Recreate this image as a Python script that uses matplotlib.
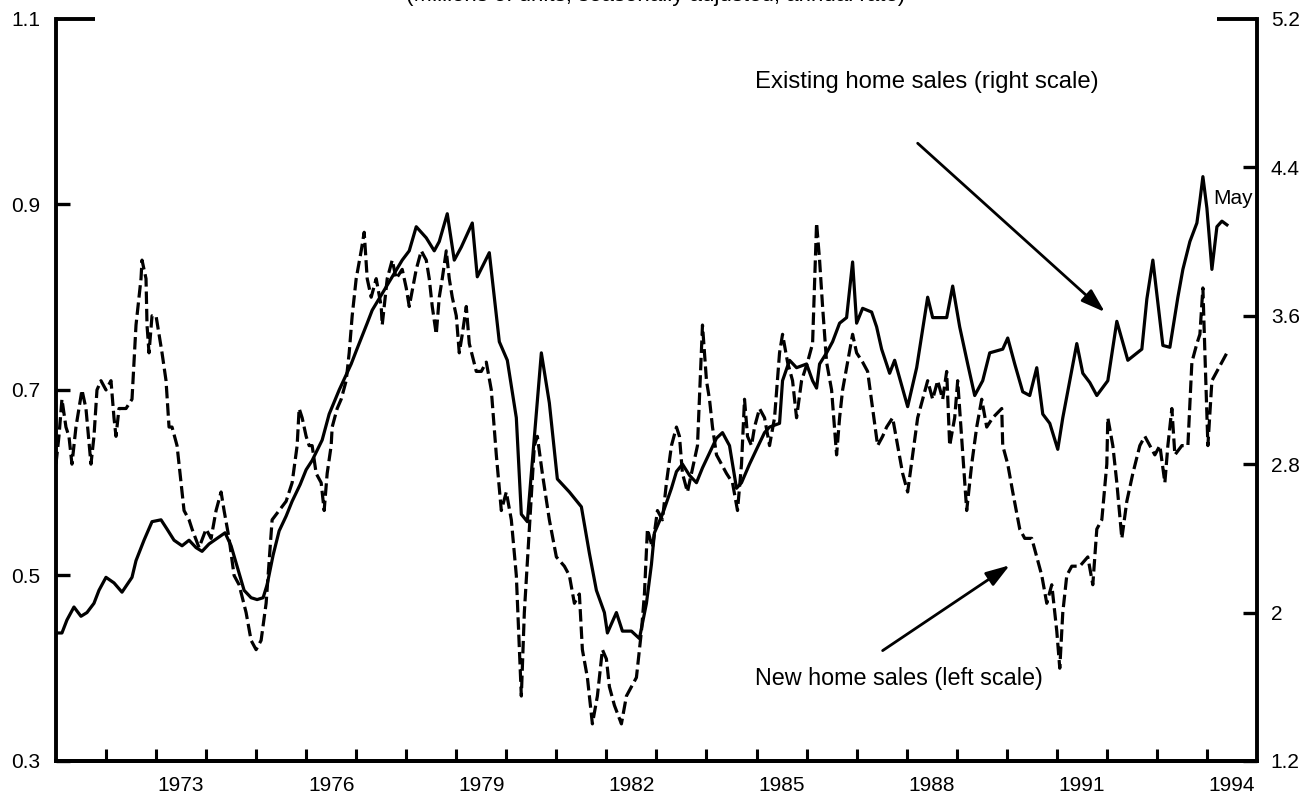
import matplotlib.pyplot as plt

plt.rcParams['font.family'] = ['Liberation Sans', 'DejaVu Sans']
plt.rcParams['lines.scale_dashes'] = False

# existing home sales, millions (right scale)
existing_years = [
    1971.00, 1971.12, 1971.22, 1971.36, 1971.50, 1971.62, 1971.76, 1971.86, 1972.00, 1972.16,
    1972.32, 1972.52, 1972.60, 1972.76, 1972.92, 1973.10, 1973.22, 1973.36, 1973.52, 1973.66,
    1973.80, 1973.92, 1974.06, 1974.22, 1974.38, 1974.50, 1974.62, 1974.76, 1974.90, 1975.02,
    1975.14, 1975.22, 1975.34, 1975.46, 1975.60, 1975.72, 1975.88, 1976.00, 1976.12, 1976.32,
    1976.46, 1976.66, 1976.90, 1977.00, 1977.22, 1977.32, 1977.52, 1977.72, 1977.92, 1978.06,
    1978.20, 1978.40, 1978.56, 1978.66, 1978.82, 1978.96, 1979.10, 1979.32, 1979.42, 1979.66,
    1979.86, 1980.02, 1980.20, 1980.30, 1980.42, 1980.70, 1980.86, 1981.02, 1981.26, 1981.50,
    1981.66, 1981.80, 1981.96, 1982.02, 1982.20, 1982.32, 1982.50, 1982.66, 1982.80, 1982.90,
    1982.96, 1983.12, 1983.30, 1983.40, 1983.52, 1983.66, 1983.80, 1983.92, 1984.06, 1984.20,
    1984.32, 1984.46, 1984.60, 1984.70, 1984.86, 1985.00, 1985.16, 1985.26, 1985.46, 1985.52,
    1985.66, 1985.80, 1986.00, 1986.12, 1986.20, 1986.26, 1986.40, 1986.52, 1986.66, 1986.80,
    1986.92, 1987.00, 1987.12, 1987.30, 1987.40, 1987.50, 1987.66, 1987.76, 1988.02, 1988.20,
    1988.42, 1988.52, 1988.80, 1988.92, 1989.06, 1989.22, 1989.36, 1989.52, 1989.66, 1989.92,
    1990.02, 1990.16, 1990.32, 1990.46, 1990.60, 1990.72, 1990.86, 1991.02, 1991.12, 1991.40,
    1991.52, 1991.66, 1991.80, 1992.02, 1992.20, 1992.42, 1992.70, 1992.80, 1992.92, 1993.12,
    1993.26, 1993.42, 1993.52, 1993.66, 1993.80, 1993.86, 1993.92, 1994.00, 1994.10, 1994.20,
    1994.30, 1994.40,
]
existing_sales = [
    1.89, 1.89, 1.96, 2.03, 1.98, 2.00, 2.05, 2.12, 2.19, 2.16,
    2.11, 2.19, 2.28, 2.39, 2.49, 2.50, 2.45, 2.39, 2.36, 2.39,
    2.35, 2.33, 2.37, 2.40, 2.43, 2.36, 2.25, 2.12, 2.08, 2.07,
    2.08, 2.15, 2.31, 2.44, 2.52, 2.60, 2.69, 2.77, 2.82, 2.93,
    3.07, 3.20, 3.34, 3.41, 3.56, 3.63, 3.72, 3.81, 3.90, 3.95,
    4.08, 4.02, 3.95, 4.00, 4.15, 3.90, 3.97, 4.10, 3.81, 3.94,
    3.46, 3.36, 3.05, 2.53, 2.49, 3.40, 3.13, 2.72, 2.65, 2.57,
    2.32, 2.12, 2.00, 1.89, 2.00, 1.90, 1.90, 1.86, 2.05, 2.26,
    2.43, 2.53, 2.67, 2.76, 2.80, 2.74, 2.70, 2.78, 2.86, 2.94,
    2.97, 2.90, 2.67, 2.70, 2.80, 2.88, 2.97, 3.00, 3.02, 3.25,
    3.36, 3.32, 3.34, 3.25, 3.21, 3.34, 3.40, 3.46, 3.56, 3.59,
    3.89, 3.56, 3.64, 3.62, 3.54, 3.42, 3.29, 3.36, 3.11, 3.32,
    3.70, 3.59, 3.59, 3.76, 3.54, 3.34, 3.17, 3.25, 3.40, 3.42,
    3.48, 3.34, 3.19, 3.17, 3.32, 3.07, 3.02, 2.88, 3.05, 3.45,
    3.29, 3.24, 3.17, 3.25, 3.57, 3.36, 3.42, 3.69, 3.90, 3.44,
    3.43, 3.70, 3.85, 4.00, 4.10, 4.22, 4.35, 4.18, 3.85, 4.08,
    4.11, 4.09,
]

# new home sales, millions (left scale)
new_years = [
    1971.00, 1971.06, 1971.12, 1971.20, 1971.26, 1971.32, 1971.40, 1971.46, 1971.52, 1971.60,
    1971.70, 1971.76, 1971.82, 1971.90, 1972.00, 1972.10, 1972.16, 1972.20, 1972.26, 1972.40,
    1972.52, 1972.60, 1972.70, 1972.72, 1972.80, 1972.82, 1972.86, 1972.92, 1973.00, 1973.06,
    1973.12, 1973.20, 1973.26, 1973.32, 1973.42, 1973.50, 1973.56, 1973.66, 1973.72, 1973.86,
    1974.00, 1974.10, 1974.20, 1974.30, 1974.36, 1974.46, 1974.56, 1974.66, 1974.80, 1974.90,
    1975.00, 1975.10, 1975.20, 1975.28, 1975.32, 1975.46, 1975.60, 1975.72, 1975.82, 1975.86,
    1975.92, 1976.00, 1976.06, 1976.12, 1976.20, 1976.30, 1976.36, 1976.42, 1976.50, 1976.52,
    1976.62, 1976.70, 1976.80, 1976.86, 1976.92, 1977.00, 1977.10, 1977.16, 1977.22, 1977.30,
    1977.40, 1977.50, 1977.52, 1977.62, 1977.72, 1977.80, 1977.92, 1978.00, 1978.06, 1978.20,
    1978.30, 1978.40, 1978.46, 1978.52, 1978.60, 1978.66, 1978.72, 1978.80, 1978.86, 1978.92,
    1979.00, 1979.06, 1979.12, 1979.20, 1979.26, 1979.40, 1979.50, 1979.60, 1979.70, 1979.80,
    1979.90, 1980.00, 1980.10, 1980.20, 1980.30, 1980.36, 1980.46, 1980.56, 1980.62, 1980.72,
    1980.86, 1981.00, 1981.16, 1981.26, 1981.36, 1981.46, 1981.52, 1981.62, 1981.72, 1981.82,
    1981.92, 1982.00, 1982.06, 1982.16, 1982.30, 1982.40, 1982.50, 1982.60, 1982.70, 1982.76,
    1982.82, 1982.92, 1983.02, 1983.12, 1983.20, 1983.30, 1983.40, 1983.46, 1983.52, 1983.62,
    1983.70, 1983.82, 1983.92, 1984.00, 1984.06, 1984.12, 1984.20, 1984.30, 1984.40, 1984.52,
    1984.62, 1984.70, 1984.76, 1984.82, 1984.90, 1984.96, 1985.06, 1985.16, 1985.26, 1985.36,
    1985.46, 1985.52, 1985.62, 1985.72, 1985.80, 1985.90, 1986.02, 1986.12, 1986.20, 1986.26,
    1986.32, 1986.40, 1986.50, 1986.60, 1986.66, 1986.72, 1986.82, 1986.92, 1987.00, 1987.12,
    1987.22, 1987.32, 1987.42, 1987.52, 1987.60, 1987.72, 1987.82, 1987.92, 1988.02, 1988.12,
    1988.22, 1988.32, 1988.42, 1988.52, 1988.62, 1988.72, 1988.80, 1988.86, 1988.96, 1989.02,
    1989.20, 1989.30, 1989.40, 1989.50, 1989.60, 1989.72, 1989.90, 1989.92, 1990.02, 1990.12,
    1990.26, 1990.36, 1990.50, 1990.60, 1990.70, 1990.80, 1990.90, 1991.00, 1991.06, 1991.12,
    1991.20, 1991.30, 1991.46, 1991.62, 1991.72, 1991.80, 1991.90, 1992.00, 1992.02, 1992.12,
    1992.20, 1992.30, 1992.40, 1992.52, 1992.66, 1992.76, 1992.86, 1992.96, 1993.06, 1993.16,
    1993.22, 1993.30, 1993.36, 1993.50, 1993.62, 1993.70, 1993.80, 1993.86, 1993.92, 1993.96,
    1994.02, 1994.10, 1994.20, 1994.30, 1994.40,
]
new_sales = [
    0.62, 0.65, 0.69, 0.66, 0.65, 0.62, 0.66, 0.68, 0.70, 0.68,
    0.62, 0.65, 0.70, 0.71, 0.70, 0.71, 0.67, 0.65, 0.68, 0.68,
    0.69, 0.77, 0.82, 0.84, 0.82, 0.77, 0.74, 0.78, 0.78, 0.76,
    0.74, 0.71, 0.66, 0.66, 0.64, 0.60, 0.57, 0.56, 0.55, 0.53,
    0.55, 0.54, 0.57, 0.59, 0.57, 0.54, 0.50, 0.49, 0.46, 0.43,
    0.42, 0.43, 0.47, 0.53, 0.56, 0.57, 0.58, 0.60, 0.64, 0.68,
    0.67, 0.65, 0.64, 0.64, 0.61, 0.60, 0.57, 0.61, 0.64, 0.66,
    0.68, 0.69, 0.71, 0.74, 0.78, 0.82, 0.85, 0.87, 0.82, 0.80,
    0.82, 0.79, 0.77, 0.82, 0.84, 0.82, 0.83, 0.81, 0.79, 0.83,
    0.85, 0.84, 0.82, 0.79, 0.76, 0.80, 0.82, 0.85, 0.82, 0.80,
    0.78, 0.74, 0.76, 0.79, 0.75, 0.72, 0.72, 0.73, 0.70, 0.63,
    0.57, 0.59, 0.56, 0.50, 0.37, 0.46, 0.55, 0.64, 0.65, 0.61,
    0.56, 0.52, 0.51, 0.50, 0.47, 0.48, 0.42, 0.39, 0.34, 0.37,
    0.42, 0.41, 0.38, 0.36, 0.34, 0.37, 0.38, 0.39, 0.44, 0.48,
    0.55, 0.53, 0.57, 0.56, 0.60, 0.64, 0.66, 0.65, 0.61, 0.59,
    0.61, 0.64, 0.77, 0.71, 0.69, 0.66, 0.63, 0.62, 0.61, 0.60,
    0.57, 0.62, 0.69, 0.65, 0.64, 0.66, 0.68, 0.67, 0.64, 0.67,
    0.74, 0.76, 0.73, 0.71, 0.67, 0.71, 0.73, 0.75, 0.88, 0.84,
    0.79, 0.73, 0.70, 0.63, 0.67, 0.70, 0.73, 0.76, 0.74, 0.73,
    0.72, 0.68, 0.64, 0.65, 0.66, 0.67, 0.64, 0.61, 0.59, 0.63,
    0.67, 0.69, 0.71, 0.69, 0.71, 0.69, 0.72, 0.64, 0.67, 0.71,
    0.57, 0.62, 0.66, 0.69, 0.66, 0.67, 0.68, 0.64, 0.62, 0.59,
    0.55, 0.54, 0.54, 0.52, 0.50, 0.47, 0.49, 0.44, 0.40, 0.46,
    0.50, 0.51, 0.51, 0.52, 0.49, 0.55, 0.56, 0.62, 0.67, 0.64,
    0.60, 0.54, 0.58, 0.61, 0.64, 0.65, 0.64, 0.63, 0.64, 0.60,
    0.64, 0.68, 0.63, 0.64, 0.64, 0.73, 0.75, 0.76, 0.81, 0.74,
    0.64, 0.71, 0.72, 0.73, 0.74,
]

year_ticks = list(range(1972, 1995))
label_years = [1973, 1976, 1979, 1982, 1985, 1988, 1991, 1994]
left_ticks = [0.3, 0.5, 0.7, 0.9]
right_ticks = [1.2, 2.0, 2.8, 3.6, 4.4]

fig = plt.figure(figsize=(13.07, 7.96), dpi=100)
ax = fig.add_axes([0.0428, 0.044, 0.9189, 0.9322])
ax2 = ax.twinx()

ax.plot(new_years, new_sales, color='black', lw=2.3, ls=(0, (9, 3.5)))
ax2.plot(existing_years, existing_sales, color='black', lw=2.3)

ax.set_xlim(1971, 1995)
ax.set_ylim(0.3, 1.1)
ax2.set_ylim(1.2, 5.2)

for a in (ax, ax2):
    a.spines['top'].set_visible(False)
    for s in a.spines.values():
        s.set_linewidth(2.8)
ax.spines['right'].set_visible(False)
ax2.spines['left'].set_visible(False)

# year boundaries get ticks, labels sit mid-year
ax.set_xticks(year_ticks)
ax.set_xticklabels([])
ax.set_xticks([y + 0.5 for y in label_years], minor=True)
ax.set_xticklabels([str(y) for y in label_years], minor=True)
ax.tick_params(axis='x', which='major', direction='in', length=9, width=2.2)
ax.tick_params(axis='x', which='minor', length=0, pad=11, labelsize=15)

# top tick on each side is drawn longer, as a corner
ax.set_yticks(left_ticks)
ax.set_yticklabels(['0.3', '0.5', '0.7', '0.9'])
ax.set_yticks([1.1], minor=True)
ax.set_yticklabels(['1.1'], minor=True)
ax.tick_params(axis='y', which='major', direction='in', length=10, width=2.4, pad=11, labelsize=15)
ax.tick_params(axis='y', which='minor', direction='in', length=28, width=2.8, pad=11, labelsize=15)

ax2.set_yticks(right_ticks)
ax2.set_yticklabels(['1.2', '2', '2.8', '3.6', '4.4'])
ax2.set_yticks([5.2], minor=True)
ax2.set_yticklabels(['5.2'], minor=True)
ax2.tick_params(axis='y', which='major', direction='in', length=10, width=2.4, pad=10, labelsize=15)
ax2.tick_params(axis='y', which='minor', direction='in', length=29, width=2.8, pad=10, labelsize=15)

arrow = dict(arrowstyle='-|>,head_length=0.85,head_width=0.28', color='black', lw=2.0,
             shrinkA=0, shrinkB=0)
ax.text(1984.96, 1.0315, 'Existing home sales (right scale)', fontsize=17.2, va='center', ha='left')
ax.annotate('', xy=(1991.96, 0.784), xytext=(1988.22, 0.966), arrowprops=arrow, fontsize=17)
ax.text(1984.96, 0.389, 'New home sales (left scale)', fontsize=16.8, va='center', ha='left')
ax.annotate('', xy=(1990.06, 0.511), xytext=(1987.52, 0.419), arrowprops=arrow, fontsize=17)
ax2.text(1994.12, 4.23, 'May', fontsize=15, va='center', ha='left')

# units line sits above the plot, running off the top edge
fig.text(0.5016, 1 - 1 / 796, '(Millions of units, seasonally adjusted, annual rate)',
         fontsize=16, ha='center', va='baseline')

fig.savefig('out.png', dpi=100)
